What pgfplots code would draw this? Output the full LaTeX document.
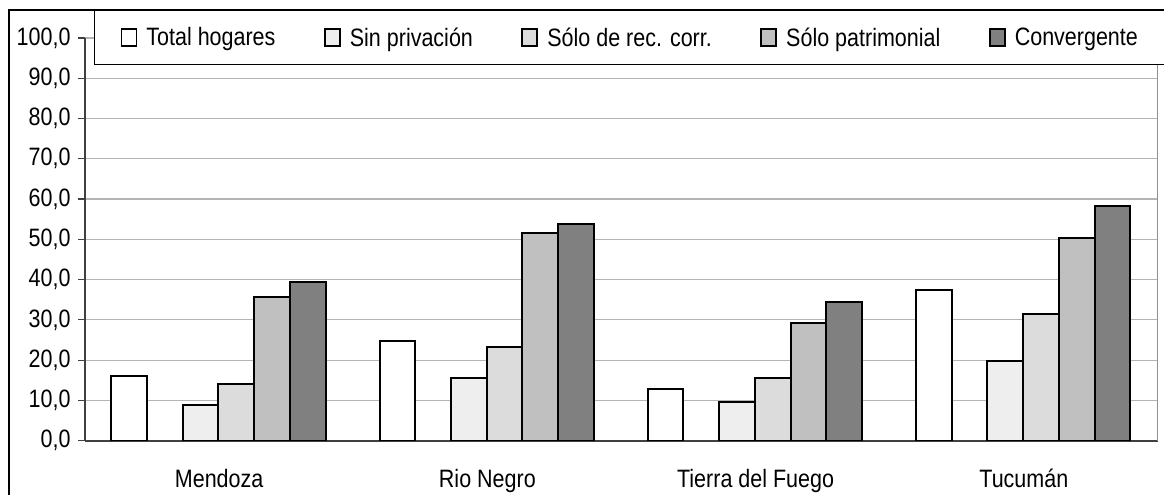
\documentclass[border=0pt]{standalone}
\usepackage{fontspec}
\setmainfont{Liberation Sans}
\usepackage{graphicx}
\usepackage{pgfplots}
\usepackage{pgfplotstable}
\pgfplotsset{compat=1.18}

\newcommand\fs{\fontsize{21.5bp}{24bp}\selectfont}
\newcommand\tx[1]{\scalebox{1}[1.17]{#1}}

\definecolor{axisdark}{HTML}{404040}
\definecolor{gridgray}{HTML}{B4B4B4}
\definecolor{frameg}{HTML}{909090}
\definecolor{csin}{HTML}{EEEEEE}
\definecolor{crec}{HTML}{DCDCDC}
\definecolor{cpat}{HTML}{C0C0C0}
\definecolor{cconv}{HTML}{808080}

% Share of households (%) by type of deprivation
\pgfplotstableread{
x    total  sin   rec   patr  conv
0.5  16.1   8.9   14.1  35.6  39.5
1.5  24.8   15.5  23.3  51.6  53.7
2.5  12.8   9.7   15.5  29.3  34.4
3.5  37.3   19.9  31.5  50.4  58.4
}\datos

\begin{document}
\begin{tikzpicture}
\path[use as bounding box] (-85bp,-54.3bp) rectangle (1079bp,440.7bp);
\clip (-85bp,-54.3bp) rectangle (1079bp,440.7bp);
% chart frame
\draw[black, line width=1.3bp] (-76bp,-80bp) -- (-76bp,430.7bp) -- (1100bp,430.7bp);
\begin{axis}[
  at={(0,0)}, anchor=south west,
  scale only axis,
  width=1073bp, height=402.7bp,
  xmin=0, xmax=4, ymin=0, ymax=100,
  axis x line*=bottom, axis y line*=left,
  axis line style={draw=axisdark, line width=1.6bp},
  tick align=outside,
  xtick={0.5,1.5,2.5,3.5},
  xticklabels={\tx{Mendoza},\tx{Rio Negro},\tx{Tierra del Fuego},\tx{Tucumán}},
  x tick style={draw=none},
  xticklabel style={font=\fs, anchor=base, yshift=-40bp},
  extra x ticks={0,1,2,3,4},
  extra x tick labels={},
  extra x tick style={grid=none, major tick length=8bp,
    tick style={draw=axisdark, line width=1.2bp}},
  ytick={0,10,...,100},
  y tick style={draw=axisdark, line width=1.2bp},
  major tick length=7bp,
  yticklabel style={font=\fs, xshift=-4bp},
  yticklabel={\tx{\pgfmathprintnumber[fixed,fixed zerofill,precision=1,use comma,assume math mode=true]{\tick}}},
  ymajorgrids,
  major grid style={draw=gridgray, line width=1.2bp},
  ybar, bar width=35.7bp,
  every axis plot/.append style={draw=black, line width=2bp},
  legend columns=5,
  legend image code/.code={\draw[#1, line width=1.8bp] (0bp,-8.5bp) rectangle (15bp,8.5bp);
    \path[draw=none, fill=none] (0bp,0bp) -- (23bp,0bp);},
  legend style={at={(axis description cs:0.00839,1.0695)}, anchor=north west,
    draw=black, line width=1bp, fill=white, font=\fs,
    inner xsep=26bp, inner ysep=15bp,
    /tikz/every even column/.append style={column sep=46.5bp}},
  legend cell align=left,
]
\addplot[fill=white, bar shift=-90bp] table[x=x, y=total] {\datos};
\addlegendentry{\tx{Total hogares}}
\addplot[fill=csin, bar shift=-18.5bp] table[x=x, y=sin] {\datos};
\addlegendentry{\tx{Sin privación}}
\addplot[fill=crec, bar shift=17.2bp] table[x=x, y=rec] {\datos};
\addlegendentry{\tx{Sólo de rec. corr.}}
\addplot[fill=cpat, bar shift=52.9bp] table[x=x, y=patr] {\datos};
\addlegendentry{\tx{Sólo patrimonial}}
\addplot[fill=cconv, bar shift=88.6bp] table[x=x, y=conv] {\datos};
\addlegendentry{\tx{Convergente}}
\draw[frameg, line width=2bp] (rel axis cs:1,0) -- (rel axis cs:1,1);
\end{axis}
\end{tikzpicture}
\end{document}
